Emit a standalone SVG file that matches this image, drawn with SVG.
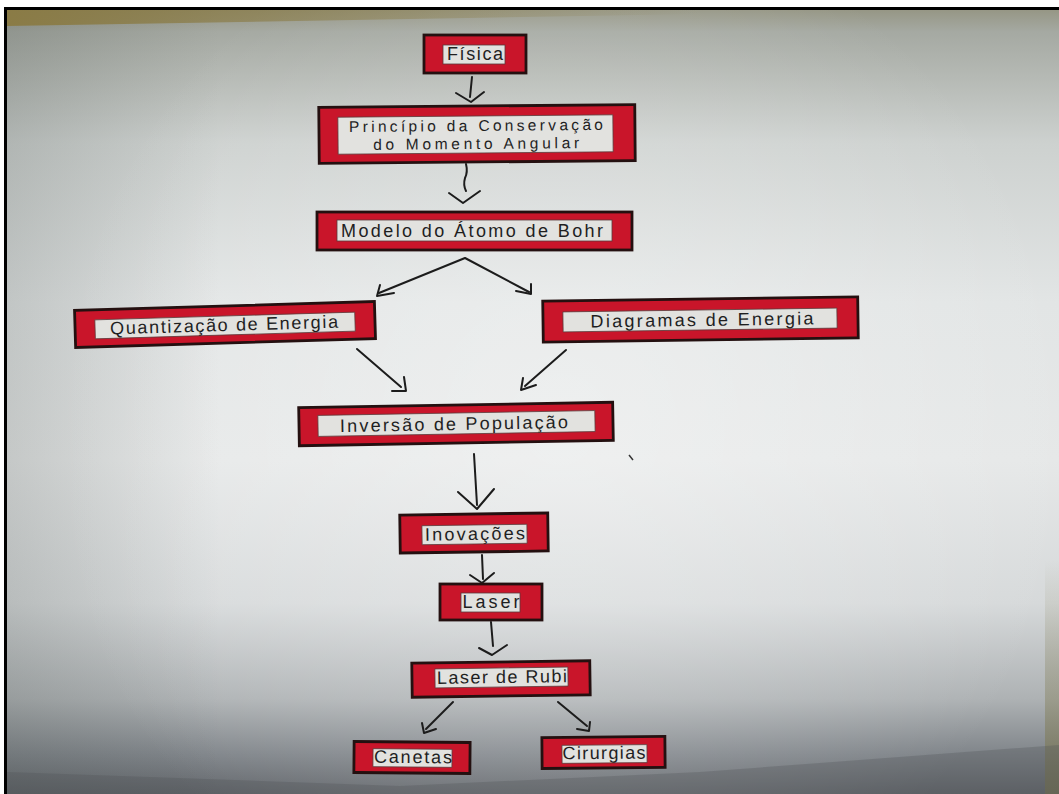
<svg xmlns="http://www.w3.org/2000/svg" width="1059" height="794" viewBox="0 0 1059 794">
  <defs>
    <!-- paper shading, top to bottom -->
    <linearGradient id="paper" x1="0" y1="0" x2="0" y2="794" gradientUnits="userSpaceOnUse">
      <stop offset="0" stop-color="#8f8e78"/>
      <stop offset="0.04" stop-color="#a5a9a2"/>
      <stop offset="0.18" stop-color="#cdd1cf"/>
      <stop offset="0.38" stop-color="#e2e5e5"/>
      <stop offset="0.58" stop-color="#e6e8e8"/>
      <stop offset="0.76" stop-color="#d6d9da"/>
      <stop offset="0.88" stop-color="#aeb2b4"/>
      <stop offset="0.95" stop-color="#80858a"/>
      <stop offset="1" stop-color="#62666b"/>
    </linearGradient>
    <radialGradient id="glow" cx="560" cy="430" r="520" gradientUnits="userSpaceOnUse">
      <stop offset="0" stop-color="#ffffff" stop-opacity="0.35"/>
      <stop offset="1" stop-color="#ffffff" stop-opacity="0"/>
    </radialGradient>
    <linearGradient id="leftShade" x1="7" y1="0" x2="220" y2="0" gradientUnits="userSpaceOnUse">
      <stop offset="0" stop-color="#404844" stop-opacity="0.2"/>
      <stop offset="1" stop-color="#404844" stop-opacity="0"/>
    </linearGradient>
    <linearGradient id="topBand" x1="0" y1="10" x2="700" y2="10" gradientUnits="userSpaceOnUse">
      <stop offset="0" stop-color="#8a7b45"/>
      <stop offset="1" stop-color="#8a7b45" stop-opacity="0"/>
    </linearGradient>
    <linearGradient id="rightEdge" x1="0" y1="560" x2="0" y2="794" gradientUnits="userSpaceOnUse">
      <stop offset="0" stop-color="#7a7446" stop-opacity="0"/>
      <stop offset="1" stop-color="#7a7446" stop-opacity="0.6"/>
    </linearGradient>
    <style>
      .box { fill: #c9152a; stroke: #241010; stroke-width: 2.8; }
      .lbl { fill: #e2e2df; stroke: #5a3a3a; stroke-width: 0.8; }
      .t { font-family: "Liberation Sans", Arial, sans-serif; font-size: 18px; fill: #1f1f1f; text-anchor: middle; }
      .t2 { font-size: 15.5px; }
    </style>
  </defs>

  <!-- photo background with frame -->
  <rect x="0" y="0" width="1059" height="794" fill="#ffffff"/>
  <rect x="7" y="10" width="1052" height="784" fill="url(#paper)"/>
  <rect x="7" y="10" width="1052" height="784" fill="url(#glow)"/>
  <rect x="7" y="10" width="220" height="784" fill="url(#leftShade)"/>
  <polygon points="7,10 1059,10 1059,12 700,14 7,26" fill="url(#topBand)"/>
  <rect x="1045" y="560" width="14" height="234" fill="url(#rightEdge)"/>
  <polygon points="7,772 400,786 700,772 1059,745 1059,794 7,794" fill="#4e5357" opacity="0.3"/>
  <path d="M629,455 L633,460" stroke="#333" stroke-width="1.5" fill="none"/>
  <rect x="4" y="7" width="1055" height="3" fill="#000"/>
  <rect x="4" y="7" width="3" height="787" fill="#000"/>

  <!-- connectors -->
  <g id="connectors" fill="none" stroke="#1c1c1c" stroke-width="2" stroke-linecap="round" stroke-linejoin="round">
    <path d="M472,77 L470,97"/>
    <path d="M456,93 L471,102 L484,92"/>
    <path d="M466,164 Q468,172 465,178 Q463,185 466,191"/>
    <path d="M449,193 L463,203 L480,191"/>
    <path d="M379,293 L465,258 L529,292"/>
    <path d="M380,285 L377,296 L394,293"/>
    <path d="M516,291 L531,294 L531,284"/>
    <path d="M357,349 L401,387"/>
    <path d="M404,377 L406,391 L392,391"/>
    <path d="M566,350 L525,386"/>
    <path d="M523,378 L521,390 L536,385"/>
    <path d="M474,454 L477,505"/>
    <path d="M458,492 L477,509 L494,489"/>
    <path d="M482,555 L483,579"/>
    <path d="M470,575 L482,583 L494,573"/>
    <path d="M491,622 L493,646"/>
    <path d="M479,648 L492,655 L507,645"/>
    <path d="M453,702 L426,729"/>
    <path d="M422,723 L424,733 L436,729"/>
    <path d="M558,702 L587,726"/>
    <path d="M590,722 L589,731 L577,729"/>
  </g>

  <!-- nodes -->
  <g id="fisica">
    <rect class="box" x="424" y="35" width="102" height="38"/>
    <rect class="lbl" x="443" y="45" width="62" height="19"/>
    <text class="t" x="475" y="60" textLength="56" lengthAdjust="spacing">Física</text>
  </g>

  <g id="principio" transform="rotate(-0.5 477 134)">
    <rect class="box" x="319" y="106" width="316" height="56"/>
    <rect class="lbl" x="338" y="116" width="275" height="37"/>
    <text class="t t2" x="476" y="131" textLength="254" lengthAdjust="spacing">Princípio da Conservação</text>
    <text class="t t2" x="476" y="149" textLength="206" lengthAdjust="spacing">do Momento Angular</text>
  </g>

  <g id="modelo">
    <rect class="box" x="317" y="212" width="315" height="38"/>
    <rect class="lbl" x="337" y="220" width="275" height="21"/>
    <text class="t" x="472" y="237" textLength="262" lengthAdjust="spacing">Modelo do Átomo de Bohr</text>
  </g>

  <g id="quantizacao" transform="rotate(-1.7 225 324)">
    <rect class="box" x="75" y="306" width="300" height="37"/>
    <rect class="lbl" x="95" y="316" width="260" height="19"/>
    <text class="t" x="224" y="331" textLength="228" lengthAdjust="spacing">Quantização de Energia</text>
  </g>

  <g id="diagramas" transform="rotate(-0.8 700 320)">
    <rect class="box" x="543" y="299" width="315" height="41"/>
    <rect class="lbl" x="563" y="310" width="274" height="20"/>
    <text class="t" x="702" y="326" textLength="223" lengthAdjust="spacing">Diagramas de Energia</text>
  </g>

  <g id="inversao" transform="rotate(-1 456 424)">
    <rect class="box" x="299" y="405" width="314" height="38"/>
    <rect class="lbl" x="318" y="413" width="277" height="21"/>
    <text class="t" x="454" y="430" textLength="228" lengthAdjust="spacing">Inversão de População</text>
  </g>

  <g id="inovacoes" transform="rotate(-0.8 474 533)">
    <rect class="box" x="400" y="514" width="148" height="38"/>
    <rect class="lbl" x="422" y="525" width="105" height="19"/>
    <text class="t" x="475" y="540" textLength="100" lengthAdjust="spacing">Inovações</text>
  </g>

  <g id="laser">
    <rect class="box" x="440" y="584" width="102" height="36"/>
    <rect class="lbl" x="461" y="593" width="59" height="19"/>
    <text class="t" x="491" y="608" textLength="57" lengthAdjust="spacing">Laser</text>
  </g>

  <g id="laser-rubi" transform="rotate(-0.8 501 679)">
    <rect class="box" x="412" y="662" width="178" height="34"/>
    <rect class="lbl" x="435" y="668" width="133" height="19"/>
    <text class="t" x="502" y="683" textLength="130" lengthAdjust="spacing">Laser de Rubi</text>
  </g>

  <g id="canetas" transform="rotate(0.5 412 757)">
    <rect class="box" x="354" y="742" width="116" height="31"/>
    <rect class="lbl" x="373" y="749" width="79" height="18"/>
    <text class="t" x="413" y="763" textLength="78" lengthAdjust="spacing">Canetas</text>
  </g>

  <g id="cirurgias" transform="rotate(-0.5 603 752)">
    <rect class="box" x="542" y="737" width="123" height="31"/>
    <rect class="lbl" x="562" y="745" width="85" height="18"/>
    <text class="t" x="604" y="759" textLength="83" lengthAdjust="spacing">Cirurgias</text>
  </g>
</svg>
